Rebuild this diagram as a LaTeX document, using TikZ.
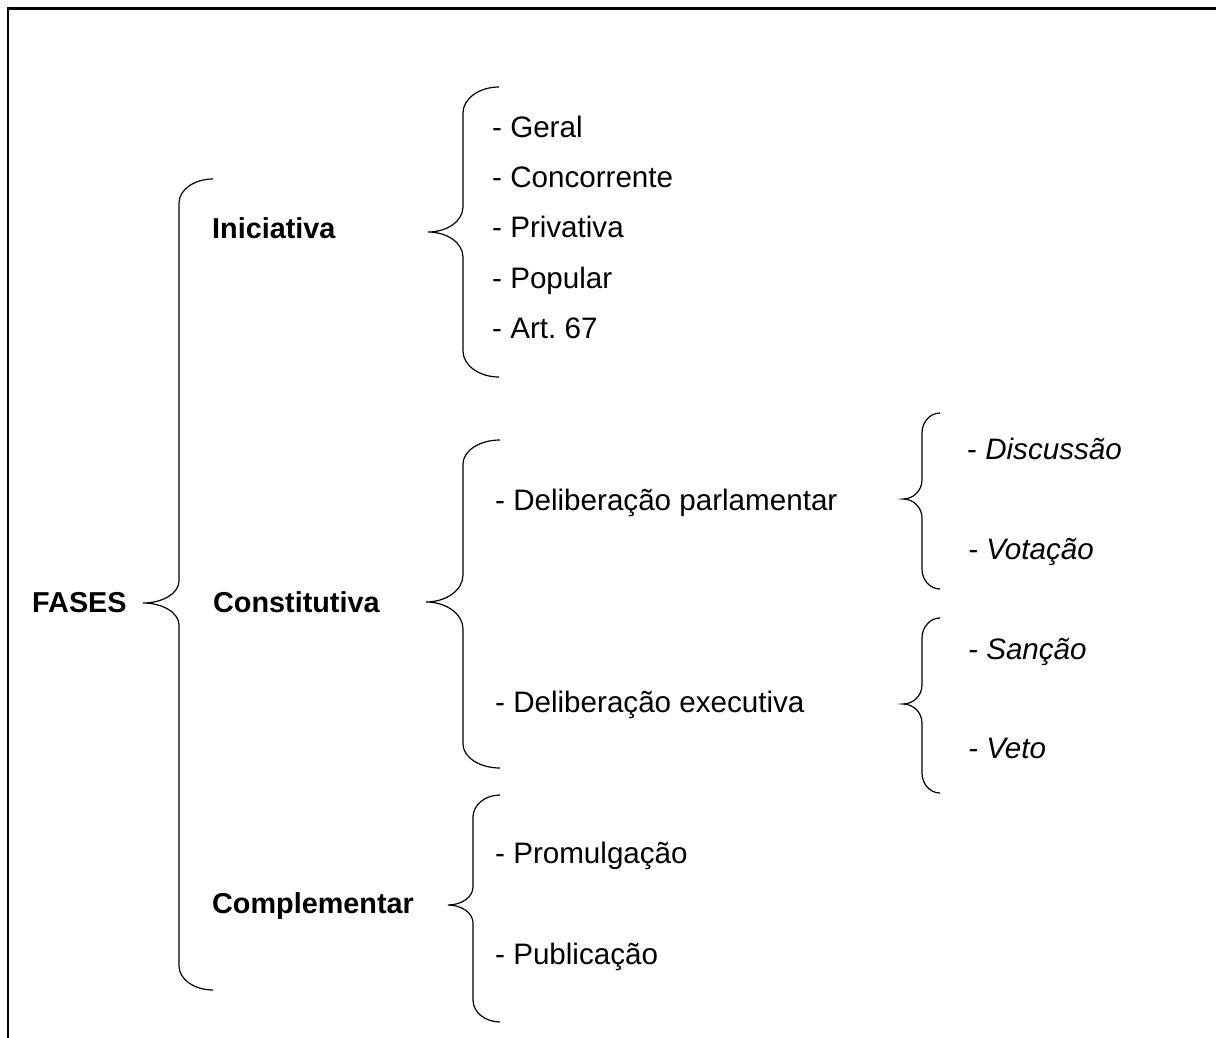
\documentclass[tikz,border=0pt]{standalone}
\usepackage{fontspec}
\setmainfont{Liberation Sans}
\frenchspacing
\tikzset{
  lbl/.style={anchor=base west, inner sep=0pt, font=\fontsize{29.6}{35}\selectfont},
  hd/.style={anchor=base west, inner sep=0pt, font=\fontsize{28.8}{34}\selectfont\bfseries},
  brace/.style={line width=1.2pt, black},
  frame/.style={line width=2.6pt, black}
}
% #1 xtip, #2 xv, #3 xe, #4 ytop, #5 ytip, #6 ybot, #7 r (end curve), #8 r (tip curve)
\newcommand{\brk}[8]{%
  \draw[brace] (#3,#4)
    .. controls ({#3-0.552*(#3-#2)},#4) and (#2,{#4+0.448*#7}) .. (#2,{#4+#7})
    -- (#2,{#5-#8})
    .. controls (#2,{#5-0.448*#8}) and ({#1+0.552*(#2-#1)},#5) .. (#1,#5)
    .. controls ({#1+0.552*(#2-#1)},#5) and (#2,{#5+0.448*#8}) .. (#2,{#5+#8})
    -- (#2,{#6-#7})
    .. controls (#2,{#6-0.448*#7}) and ({#3-0.552*(#3-#2)},#6) .. (#3,#6);%
}
\begin{document}
\begin{tikzpicture}[x=1pt,y=-1pt]
\useasboundingbox (0,0) rectangle (1216,1037);
\draw[frame] (8,1040) -- (8,8.5) -- (1220,8.5);

% braces
\brk{143}{179}{213}{179}{603}{990}{24}{22}
\brk{428}{463}{499}{87}{232}{377}{26}{25}
\brk{426}{463}{500}{440}{602}{768}{24}{27}
\brk{448}{473}{500}{795}{905}{1022}{22}{18}
\brk{903}{922}{940}{413}{499}{589}{20}{19}
\brk{903}{922}{940}{618}{704}{793}{20}{19}

% level 0 / 1
\node[hd] (fases) at (32,612) {FASES};
\node[hd] (inic) at (212,238) {Iniciativa};
\node[hd] (const) at (213,612) {Constitutiva};
\node[hd] (compl) at (212,913) {Complementar};

% iniciativa items
\node[lbl] (geral) at (492,137) {- Geral};
\node[lbl] (conc) at (492,187.5) {- Concorrente};
\node[lbl] (priv) at (492,237.5) {- Privativa};
\node[lbl] (pop) at (492,288) {- Popular};
\node[lbl] (art) at (492,338) {- Art. 67};

% constitutiva items
\node[lbl] (dparl) at (495,510) {- Deliberação parlamentar};
\node[lbl] (dexec) at (495,712) {- Deliberação executiva};

% complementar items
\node[lbl] (prom) at (495,863) {- Promulgação};
\node[lbl] (publ) at (495,964) {- Publicação};

% third level
\node[lbl] (disc) at (967,459) {- \textit{Discussão}};
\node[lbl] (vot) at (968,559) {\textit{- Votação}};
\node[lbl] (sanc) at (968,659) {\textit{- Sanção}};
\node[lbl] (veto) at (968,758) {\textit{- Veto}};
\end{tikzpicture}
\end{document}
